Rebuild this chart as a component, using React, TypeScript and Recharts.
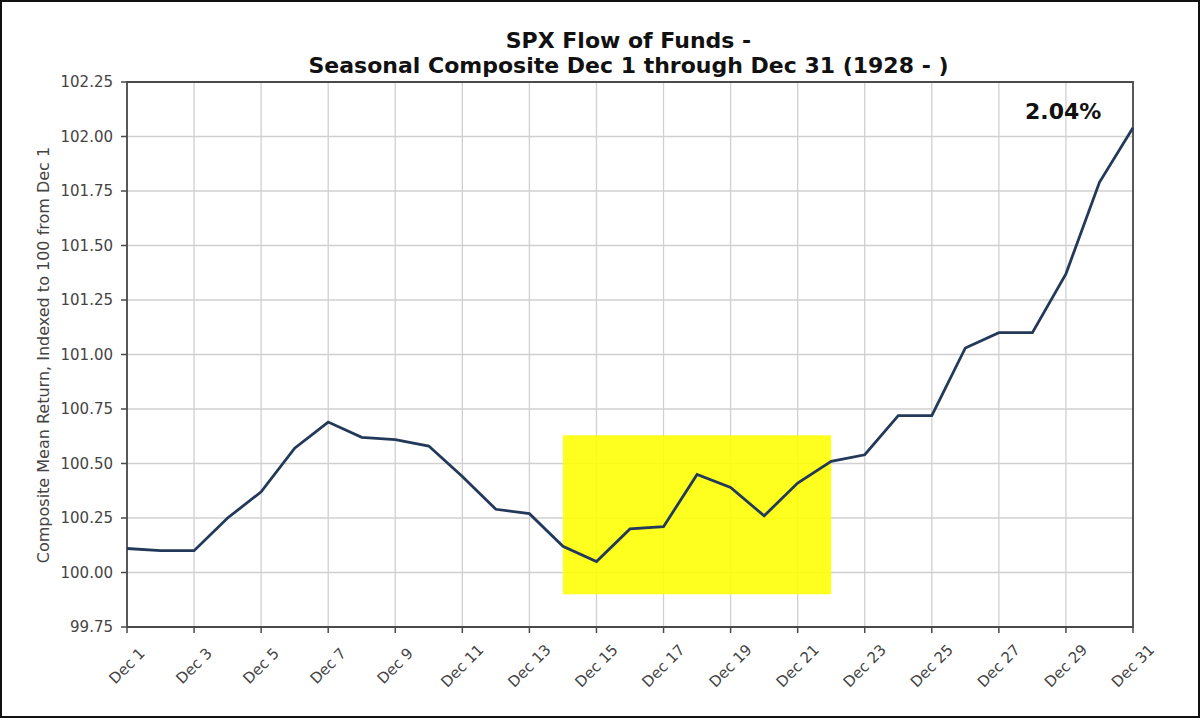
import {
  CartesianGrid,
  Line,
  LineChart,
  ReferenceArea,
  XAxis,
  YAxis,
} from "recharts";

const days = [
  "Dec 1", "Dec 2", "Dec 3", "Dec 4", "Dec 5", "Dec 6", "Dec 7", "Dec 8",
  "Dec 9", "Dec 10", "Dec 11", "Dec 12", "Dec 13", "Dec 14", "Dec 15",
  "Dec 16", "Dec 17", "Dec 18", "Dec 19", "Dec 20", "Dec 21", "Dec 22",
  "Dec 23", "Dec 24", "Dec 25", "Dec 26", "Dec 27", "Dec 28", "Dec 29",
  "Dec 30", "Dec 31",
];

const composite = [
  100.11, 100.1, 100.1, 100.25, 100.37, 100.57, 100.69, 100.62, 100.61,
  100.58, 100.44, 100.29, 100.27, 100.12, 100.05, 100.2, 100.21, 100.45,
  100.39, 100.26, 100.41, 100.51, 100.54, 100.72, 100.72, 101.03, 101.1,
  101.1, 101.37, 101.79, 102.04,
];

const xTicks = [
  "Dec 1", "Dec 3", "Dec 5", "Dec 7", "Dec 9", "Dec 11", "Dec 13", "Dec 15",
  "Dec 17", "Dec 19", "Dec 21", "Dec 23", "Dec 25", "Dec 27", "Dec 29",
  "Dec 31",
];

const yTicks = [
  99.75, 100, 100.25, 100.5, 100.75, 101, 101.25, 101.5, 101.75, 102, 102.25,
];

// highlighted window
const boxStart = "Dec 14";
const boxEnd = "Dec 22";
const boxLow = 99.9;
const boxHigh = 100.63;

const chartData = days.map((day, i) => ({ day, value: composite[i] }));

const font = "'DejaVu Sans', sans-serif";

function DayTick({ x, y, payload }: any) {
  return (
    <text
      x={x}
      y={y + 31}
      transform={`rotate(-45 ${x} ${y + 31})`}
      textAnchor="middle"
      dominantBaseline="central"
      fontSize={15}
      fontFamily={font}
      fill="#444"
    >
      {payload.value}
    </text>
  );
}

export default function App() {
  return (
    <div
      style={{
        position: "absolute",
        left: 0,
        top: 0,
        width: 1200,
        height: 718,
        background: "#fff",
        fontFamily: font,
      }}
    >
      <LineChart
        width={1200}
        height={718}
        data={chartData}
        margin={{ top: 82, right: 67, left: 0, bottom: 0 }}
      >
        <CartesianGrid stroke="#d0d0d0" strokeWidth={1.3} />
        <ReferenceArea
          x1={boxStart}
          x2={boxEnd}
          y1={boxLow}
          y2={boxHigh}
          fill="#ffff00"
          fillOpacity={0.88}
          stroke="none"
        />
        <ReferenceArea
          x1="Dec 1"
          x2="Dec 31"
          y1={99.75}
          y2={102.25}
          fill="none"
          fillOpacity={0}
          stroke="#4a4a4a"
          strokeWidth={1.8}
        />
        <XAxis
          dataKey="day"
          ticks={xTicks}
          interval={0}
          height={91}
          tick={<DayTick />}
          tickLine={{ stroke: "#4a4a4a", strokeWidth: 1.5 }}
          tickSize={6}
          axisLine={false}
        />
        <YAxis
          type="number"
          domain={[99.75, 102.25]}
          ticks={yTicks}
          width={127}
          tickFormatter={(v: number) => v.toFixed(2)}
          tick={{ fill: "#444", fontSize: 15, fontFamily: font }}
          tickLine={{ stroke: "#4a4a4a", strokeWidth: 1.5 }}
          tickSize={6}
          tickMargin={8}
          axisLine={false}
        />
        <Line
          type="linear"
          dataKey="value"
          stroke="#23395a"
          strokeWidth={2.8}
          dot={false}
          isAnimationActive={false}
        />
      </LineChart>

      <div
        style={{
          position: "absolute",
          left: 0,
          width: 1257,
          top: 28,
          textAlign: "center",
          fontWeight: "bold",
          fontSize: 22,
          lineHeight: "25px",
          color: "#111",
        }}
      >
        SPX Flow of Funds -<br />
        Seasonal Composite Dec 1 through Dec 31 (1928 - )
      </div>

      <div
        style={{
          position: "absolute",
          left: 1025,
          top: 99,
          fontWeight: "bold",
          fontSize: 22,
          color: "#111",
        }}
      >
        2.04%
      </div>

      <div
        style={{
          position: "absolute",
          left: 43,
          top: 355,
          transform: "translate(-50%, -50%) rotate(-90deg)",
          whiteSpace: "nowrap",
          fontSize: 16,
          color: "#444",
        }}
      >
        Composite Mean Return, Indexed to 100 from Dec 1
      </div>

      <div
        style={{
          position: "absolute",
          inset: 0,
          border: "2px solid #111",
          pointerEvents: "none",
        }}
      />
    </div>
  );
}
